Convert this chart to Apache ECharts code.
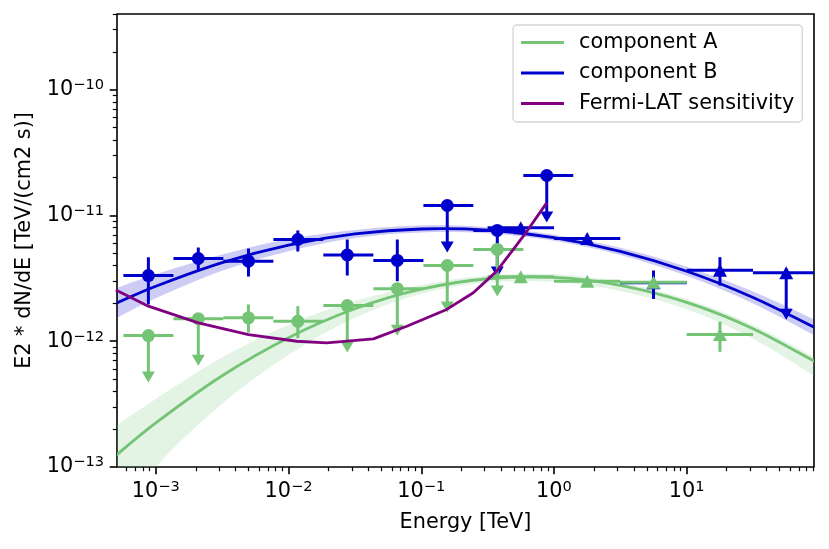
<!DOCTYPE html>
<html>
<head>
<meta charset="utf-8">
<script src="https://cdn.jsdelivr.net/npm/echarts@6/dist/echarts.min.js"></script>
<style>
  html, body { margin: 0; padding: 0; background: #fff; }
  #chart { width: 829px; height: 549px; }
</style>
</head>
<body>
<div id="chart"></div>
<script>
// ---- data ----
// model curves, sampled every half decade in energy [TeV]
const modelEnergy = [5e-4, 1e-3, 3.16e-3, 1e-2, 3.16e-2, 0.1, 0.316, 1, 3.16, 10, 31.6, 100];
const compA   = [1.233e-13, 2.244e-13, 5.32e-13, 1.067e-12, 1.811e-12, 2.594e-12, 3.14e-12, 3.215e-12, 2.782e-12, 2.036e-12, 1.259e-12, 6.58e-13];
const compAHi = [2.128e-13, 3.475e-13, 7.45e-13, 1.355e-12, 2.085e-12, 2.80e-12, 3.327e-12, 3.405e-12, 2.948e-12, 2.168e-12, 1.349e-12, 7.13e-13];
const compALo = [3.40e-14, 1.002e-13, 3.19e-13, 7.78e-13, 1.538e-12, 2.388e-12, 2.931e-12, 2.966e-12, 2.509e-12, 1.795e-12, 1.047e-12, 4.99e-13];
const compB   = [2.0e-12, 2.737e-12, 4.22e-12, 5.81e-12, 7.13e-12, 7.81e-12, 7.64e-12, 6.66e-12, 5.18e-12, 3.60e-12, 2.23e-12, 1.233e-12];
const compBHi = [2.636e-12, 3.406e-12, 4.89e-12, 6.49e-12, 7.68e-12, 8.33e-12, 8.07e-12, 7.04e-12, 5.53e-12, 3.91e-12, 2.49e-12, 1.428e-12];
const compBLo = [1.517e-12, 2.20e-12, 3.64e-12, 5.20e-12, 6.62e-12, 7.32e-12, 7.22e-12, 6.30e-12, 4.86e-12, 3.31e-12, 2.00e-12, 1.064e-12];

// Fermi-LAT sensitivity
const sensEnergy = [5.0e-4, 8.79e-4, 2.09e-3, 4.99e-3, 1.153e-2, 1.94e-2, 4.36e-2, 7.78e-2, 0.1556, 0.2466, 0.3706, 0.588, 0.881];
const sensFlux   = [2.56e-12, 1.90e-12, 1.40e-12, 1.13e-12, 1.0e-12, 9.7e-13, 1.045e-12, 1.315e-12, 1.79e-12, 2.43e-12, 3.61e-12, 6.84e-12, 1.26e-11];

// low energy flux points (circles)
const latE    = [8.79e-4, 2.09e-3, 4.99e-3, 1.175e-2, 2.77e-2, 6.60e-2, 0.157, 0.374, 0.882];
const latEMin = [5.70e-4, 1.358e-3, 3.228e-3, 7.69e-3, 1.828e-2, 4.355e-2, 0.1038, 0.2466, 0.5875];
const latEMax = [1.358e-3, 3.228e-3, 7.69e-3, 1.828e-2, 4.355e-2, 0.1038, 0.2466, 0.5875, 1.397];
const latB    = [3.33e-12, 4.55e-12, 4.33e-12, 6.44e-12, 4.85e-12, 4.39e-12, 1.20e-11, 7.6e-12, 2.08e-11];
const latBLo  = [1.96e-12, 3.65e-12, 3.27e-12, 5.17e-12, 3.33e-12, 3.0e-12, null, null, null];
const latBHi  = [4.65e-12, 5.56e-12, 5.46e-12, 7.6e-12, 6.44e-12, 6.44e-12, null, null, null];
const latBUL  = [false, false, false, false, false, false, true, true, true];
const latA    = [1.11e-12, 1.51e-12, 1.535e-12, 1.44e-12, 1.92e-12, 2.62e-12, 4.0e-12, 5.37e-12];
const latALo  = [null, null, 1.17e-12, 1.06e-12, null, null, null, null];
const latAHi  = [null, null, 1.96e-12, 1.90e-12, null, null, null, null];
const latAUL  = [true, true, false, false, true, true, true, true];

// high energy flux points (triangles)
const iactE    = [0.562, 1.78, 5.62, 17.8, 56.2];
const iactEMin = [0.316, 1, 3.16, 10, 31.6];
const iactEMax = [1, 3.16, 10, 31.6, 100];
const iactB    = [7.98e-12, 6.56e-12, 2.92e-12, 3.67e-12, 3.50e-12];
const iactBLo  = [7.45e-12, 6.12e-12, 2.17e-12, 2.77e-12, null];
const iactBHi  = [8.55e-12, 7.03e-12, 3.65e-12, 4.66e-12, null];
const iactBUL  = [false, false, false, false, true];
const iactA    = [3.25e-12, 3.0e-12, 2.94e-12, 1.13e-12];
const iactALo  = [3.05e-12, 2.8e-12, 2.75e-12, 8.24e-13];
const iactAHi  = [3.45e-12, 3.2e-12, 3.14e-12, 1.43e-12];
const iactAUL  = [false, false, false, false];

// axis ticks
const xMajor = [1e-3, 1e-2, 1e-1, 1, 10];
const yMajor = [1e-13, 1e-12, 1e-11, 1e-10];

// ---- chart ----
const GREEN = '#74c476';
const BLUE = '#0000cd';
const PURPLE = '#800080';
const FONT = 'DejaVu Sans';
const X_MIN = 5.1e-4, X_MAX = 91, Y_MIN = 1e-13, Y_MAX = 4e-10;

const minorTicks = (lo, hi) => {
  const out = [];
  for (let d = Math.floor(Math.log10(lo)); d <= Math.ceil(Math.log10(hi)); d++) {
    for (let k = 2; k <= 9; k++) {
      const v = k * Math.pow(10, d);
      if (v >= lo && v <= hi) out.push(v);
    }
  }
  return out;
};

const powLabel = v => {
  const e = Math.round(Math.log10(v));
  return '10{sup|' + (e < 0 ? '\u2212' + (-e) : e) + '}';
};

const labelStyle = {
  fontFamily: FONT, fontSize: 20.8, color: '#000', lineHeight: 24, margin: 13,
  formatter: powLabel,
  rich: { sup: { fontFamily: FONT, fontSize: 14.6, color: '#000', lineHeight: 14, verticalAlign: 'top' } }
};

const pointRows = (e, emin, emax, f, lo, hi, ul) =>
  f.map((v, i) => [e[i], v, emin[i], emax[i], ul[i] ? v : lo[i], ul[i] ? v : hi[i], ul[i] ? 1 : 0]);

const errorBars = color => (params, api) => {
  const x = api.value(0), y = api.value(1);
  const p = api.coord([x, y]);
  const l = api.coord([api.value(2), y]);
  const r = api.coord([api.value(3), y]);
  const style = { stroke: color, lineWidth: 3, fill: null };
  const children = [{ type: 'line', shape: { x1: l[0], y1: p[1], x2: r[0], y2: p[1] }, style }];
  if (api.value(6)) {
    children.push({ type: 'line', shape: { x1: p[0], y1: p[1], x2: p[0], y2: p[1] + 40 }, style });
    children.push({ type: 'polygon', shape: { points: [[p[0] - 6.5, p[1] + 36], [p[0] + 6.5, p[1] + 36], [p[0], p[1] + 47]] }, style: { fill: color } });
  } else {
    const a = api.coord([x, api.value(4)]);
    const b = api.coord([x, api.value(5)]);
    children.push({ type: 'line', shape: { x1: p[0], y1: a[1], x2: p[0], y2: b[1] }, style });
  }
  return { type: 'group', children };
};

// open Catmull-Rom curve through pixel points, as path commands
const curvePath = (pts, start) => {
  let d = (start ? 'M' : 'L') + pts[0][0] + ',' + pts[0][1];
  for (let i = 0; i < pts.length - 1; i++) {
    const p0 = pts[Math.max(i - 1, 0)], p1 = pts[i], p2 = pts[i + 1], p3 = pts[Math.min(i + 2, pts.length - 1)];
    const c1 = [p1[0] + (p2[0] - p0[0]) / 6, p1[1] + (p2[1] - p0[1]) / 6];
    const c2 = [p2[0] - (p3[0] - p1[0]) / 6, p2[1] - (p3[1] - p1[1]) / 6];
    d += 'C' + c1.join(',') + ' ' + c2.join(',') + ' ' + p2.join(',');
  }
  return d;
};

const band = (lo, hi, color, z) => ({
  type: 'custom', clip: true, z, silent: true,
  data: [[modelEnergy[0], lo[0]]],
  renderItem: (params, api) => {
    const upper = modelEnergy.map((e, i) => api.coord([e, hi[i]]));
    const lower = modelEnergy.map((e, i) => api.coord([e, lo[i]])).reverse();
    return { type: 'path', shape: { pathData: curvePath(upper, true) + curvePath(lower, false) + 'Z' }, style: { fill: color } };
  }
});

// model line: one smooth curve through the sampled values
const modelLine = (name, values, color, z) => ({
  name, type: 'custom', clip: true, z, silent: true,
  itemStyle: { color },
  data: [[modelEnergy[0], values[0]]],
  renderItem: (params, api) => {
    const pts = modelEnergy.map((e, i) => api.coord([e, values[i]]));
    return { type: 'path', shape: { pathData: curvePath(pts, true) }, style: { stroke: color, lineWidth: 2.8, fill: null } };
  }
});

const errSeries = (rows, color, z) => ({
  type: 'custom', clip: true, z, silent: true, data: rows, renderItem: errorBars(color)
});

const markerSeries = (x, y, color, symbol, size, z) => ({
  type: 'scatter', symbol, symbolSize: size, z, silent: true,
  itemStyle: { color, opacity: 1 },
  data: y.map((v, i) => [x[i], v])
});

const chart = echarts.init(document.getElementById('chart'));

chart.setOption({
  animation: false,
  grid: { left: 117, right: 15, top: 14, bottom: 82, show: true, borderColor: '#000', borderWidth: 1.6, backgroundColor: 'transparent' },
  legend: {
    data: ['component A', 'component B', 'Fermi-LAT sensitivity'],
    orient: 'vertical', left: 513, top: 25,
    padding: [7, 8, 8, 8],
    icon: 'rect', itemWidth: 43, itemHeight: 3, itemGap: 9.5,
    backgroundColor: '#fff', borderColor: '#d5d5d5', borderWidth: 1.3, borderRadius: 4,
    selectedMode: false,
    textStyle: { fontFamily: FONT, fontSize: 20.8, color: '#000', lineHeight: 21, padding: [0, 0, 0, 10] }
  },
  xAxis: [
    {
      type: 'log', min: X_MIN, max: X_MAX,
      name: 'Energy [TeV]', nameLocation: 'middle', nameGap: 45,
      nameTextStyle: { fontFamily: FONT, fontSize: 20.8, color: '#000' },
      axisLine: { show: false },
      axisTick: { customValues: xMajor, length: 7.3, lineStyle: { color: '#000', width: 1.6 } },
      axisLabel: Object.assign({ customValues: xMajor }, labelStyle),
      splitLine: { show: false }
    },
    {
      type: 'log', min: X_MIN, max: X_MAX, position: 'bottom',
      axisLine: { show: false },
      axisTick: { customValues: minorTicks(X_MIN, X_MAX), length: 4.2, lineStyle: { color: '#000', width: 1.2 } },
      axisLabel: { show: false },
      splitLine: { show: false }
    }
  ],
  yAxis: [
    {
      type: 'log', min: Y_MIN, max: Y_MAX,
      name: 'E2 * dN/dE [TeV/(cm2 s)]', nameLocation: 'middle', nameGap: 82,
      nameTextStyle: { fontFamily: FONT, fontSize: 20.8, color: '#000' },
      axisLine: { show: false },
      axisTick: { customValues: yMajor, length: 7.3, lineStyle: { color: '#000', width: 1.6 } },
      axisLabel: Object.assign({ customValues: yMajor }, labelStyle),
      splitLine: { show: false }
    },
    {
      type: 'log', min: Y_MIN, max: Y_MAX, position: 'left',
      axisLine: { show: false },
      axisTick: { customValues: minorTicks(Y_MIN, Y_MAX), length: 4.2, lineStyle: { color: '#000', width: 1.2 } },
      axisLabel: { show: false },
      splitLine: { show: false }
    }
  ],
  series: [
    band(compBLo, compBHi, 'rgba(0,0,205,0.2)', 1),
    band(compALo, compAHi, 'rgba(116,196,118,0.2)', 1),
    modelLine('component B', compB, BLUE, 2),
    modelLine('component A', compA, GREEN, 2),
    errSeries(pointRows(latE, latEMin, latEMax, latB, latBLo, latBHi, latBUL), BLUE, 3),
    markerSeries(latE, latB, BLUE, 'circle', 13, 3),
    errSeries(pointRows(iactE, iactEMin, iactEMax, iactB, iactBLo, iactBHi, iactBUL), BLUE, 3),
    markerSeries(iactE, iactB, BLUE, 'triangle', [14, 13], 3),
    errSeries(pointRows(latE, latEMin, latEMax, latA, latALo, latAHi, latAUL), GREEN, 4),
    markerSeries(latE, latA, GREEN, 'circle', 13, 4),
    errSeries(pointRows(iactE, iactEMin, iactEMax, iactA, iactALo, iactAHi, iactAUL), GREEN, 4),
    markerSeries(iactE, iactA, GREEN, 'triangle', [14, 13], 4),
    {
      name: 'Fermi-LAT sensitivity', type: 'line', symbol: 'none', z: 5,
      lineStyle: { color: PURPLE, width: 2.8 }, itemStyle: { color: PURPLE },
      data: sensEnergy.map((e, i) => [e, sensFlux[i]])
    }
  ]
});
</script>
</body>
</html>
